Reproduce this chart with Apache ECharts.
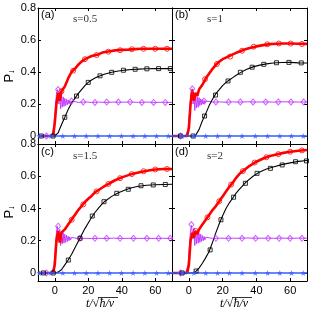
<!DOCTYPE html>
<html><head><meta charset="utf-8">
<script src="https://cdn.jsdelivr.net/npm/echarts@6/dist/echarts.min.js"></script>
<style>html,body{margin:0;padding:0;background:#fff}#c{width:311px;height:311px}</style>
</head><body><div id="c"></div>
<script>
// ---------- data ----------
const panelTags = ['(a)', '(b)', '(c)', '(d)'];
const sLabels = ['s=0.5', 's=1', 's=1.5', 's=2'];
const xTicks = [0, 20, 40, 60];
const yTicks = [0, 0.2, 0.4, 0.6, 0.8];

// red curve (dense line)
const tRed = [-10,-1,0,1,2,3,4,5,6,7,8,9,10,11,12,13,14,15,16,17,18,19,20,22,24,26,28,30,33,36,40,44,48,52,56,60,65,70];
const redA = [0,0,0.08,0.2,0.27,0.22,0.28,0.27,0.31,0.32,0.36,0.36,0.40,0.405,0.42,0.43,0.445,0.45,0.465,0.465,0.48,0.48,0.49,0.50,0.505,0.51,0.52,0.525,0.53,0.535,0.538,0.54,0.543,0.545,0.545,0.545,0.545,0.545];
const redB = [0,0,0.05,0.2,0.29,0.22,0.27,0.25,0.29,0.29,0.32,0.34,0.36,0.375,0.39,0.405,0.42,0.43,0.445,0.455,0.465,0.475,0.48,0.49,0.50,0.51,0.52,0.528,0.54,0.55,0.56,0.568,0.574,0.577,0.578,0.578,0.577,0.576];
const redC = [0,0,0.05,0.2,0.26,0.19,0.25,0.24,0.27,0.27,0.30,0.31,0.33,0.345,0.36,0.375,0.39,0.40,0.415,0.425,0.44,0.45,0.46,0.478,0.50,0.513,0.527,0.54,0.558,0.575,0.593,0.607,0.618,0.628,0.636,0.642,0.645,0.645];
const redD = [0,0,0.05,0.2,0.25,0.22,0.26,0.24,0.27,0.28,0.30,0.31,0.33,0.345,0.36,0.375,0.39,0.40,0.415,0.43,0.445,0.46,0.475,0.505,0.535,0.56,0.59,0.615,0.64,0.665,0.69,0.71,0.725,0.735,0.745,0.752,0.758,0.763];

// black curve
const tBlack = [-10,-2,0,2,4,6,8,10,12,14,16,18,20,22,24,26,28,30,34,38,42,46,50,55,60,65,70];
const blackA = [0,0,0,0.02,0.07,0.117,0.165,0.205,0.235,0.265,0.29,0.315,0.335,0.35,0.362,0.372,0.38,0.387,0.398,0.406,0.412,0.416,0.418,0.42,0.421,0.421,0.421];
const blackB = [0,0,0,0,0.005,0.04,0.095,0.14,0.19,0.23,0.265,0.29,0.315,0.335,0.35,0.365,0.38,0.393,0.415,0.432,0.443,0.451,0.456,0.459,0.46,0.457,0.456];
const blackC = [0,0,0,0.005,0.02,0.05,0.08,0.115,0.155,0.195,0.235,0.275,0.31,0.345,0.375,0.40,0.425,0.445,0.475,0.498,0.515,0.528,0.538,0.544,0.547,0.549,0.55];
const blackD = [0,0,0,0,0.008,0.03,0.06,0.095,0.133,0.19,0.25,0.305,0.355,0.40,0.435,0.465,0.495,0.52,0.565,0.6,0.627,0.645,0.657,0.672,0.683,0.692,0.698];

// magenta curve
const tMag = [-10,-2,-1,-0.5,0,0.5,1,1.5,2,2.5,3,3.5,4,4.5,5,5.5,6,6.5,7,7.5,8,8.5,9,9.5,10,11,12,14,18,22,26,30,35,40,45,50,55,60,65,70];
const magA = [0,0,0.03,0.07,0.13,0.2,0.26,0.29,0.27,0.2,0.27,0.17,0.25,0.18,0.245,0.185,0.235,0.19,0.23,0.195,0.225,0.2,0.222,0.203,0.218,0.207,0.215,0.21,0.213,0.21,0.212,0.21,0.212,0.211,0.213,0.21,0.212,0.21,0.211,0.21];
const magB = [0,0,0.01,0.04,0.1,0.17,0.24,0.28,0.295,0.2,0.27,0.16,0.255,0.175,0.245,0.18,0.24,0.19,0.232,0.195,0.228,0.2,0.222,0.205,0.218,0.208,0.216,0.212,0.213,0.211,0.213,0.212,0.214,0.212,0.213,0.212,0.214,0.213,0.212,0.213];
const magC = [0,0,0.01,0.04,0.1,0.18,0.25,0.29,0.30,0.21,0.27,0.17,0.26,0.18,0.25,0.185,0.24,0.19,0.235,0.195,0.228,0.2,0.224,0.205,0.22,0.21,0.217,0.213,0.215,0.213,0.215,0.214,0.216,0.214,0.215,0.214,0.215,0.214,0.215,0.214];
const magD = [0,0,0.01,0.05,0.12,0.2,0.26,0.295,0.30,0.21,0.28,0.17,0.265,0.18,0.255,0.185,0.245,0.19,0.24,0.195,0.232,0.2,0.226,0.205,0.222,0.21,0.218,0.214,0.216,0.215,0.216,0.215,0.217,0.215,0.216,0.215,0.216,0.215,0.216,0.215];

// blue line
const tBlue = [-10, 70];
const blueLine = [0, 0];

// markers
const redMkT = [[4,11,18,25,32,39,46,53,60,67],[2.5,9.6,16.6,24.5,31.5,38.4,46.4,53.3,60.3,67],[3.1,10.1,17,25,32,39,46,53,60,67],[4,11,18,25,32,39,46,53,60,67]];
const redMkV = [[0.28,0.408,0.48,0.506,0.527,0.536,0.542,0.545,0.545,0.545],[0.25,0.355,0.45,0.496,0.533,0.558,0.573,0.578,0.578,0.575],[0.205,0.33,0.425,0.506,0.552,0.588,0.613,0.631,0.642,0.645],[0.26,0.345,0.445,0.548,0.632,0.685,0.718,0.737,0.752,0.76]];
const blkMkT = [[-8,-1,6,13,20,27,34,41,48,55,62,69],[-5,2.5,9.3,15.8,23.2,30.5,37.5,44.4,51.9,59.3,66.6],[-6.8,-0.9,8.1,15.1,22.4,29.4,37,43.9,51.5,58.8,66],[-4,4.3,12.6,19,26.5,33.5,40.4,48.3,55.3,63.2,69.7]];
const blkMkV = [[0,0,0.117,0.25,0.335,0.376,0.398,0.411,0.417,0.42,0.421,0.421],[0,0,0.125,0.256,0.344,0.398,0.43,0.448,0.458,0.46,0.457],[0,0,0.08,0.215,0.353,0.442,0.494,0.519,0.541,0.546,0.549],[0,0.012,0.143,0.33,0.47,0.556,0.618,0.649,0.67,0.69,0.695]];
const magMkT = [[-5,2,10,17,24,31,38,45,52,59,66],[-5,2,9,16,23.5,30.5,38,45.5,53,60.5,68],[-5,2,15,24,31,39,47,55,62,69],[-5,1.5,16,23.5,31.5,39.5,47,53.5,60,67]];
const magMkV = [[0,0.29,0.218,0.213,0.21,0.212,0.212,0.213,0.21,0.21,0.21],[0,0.295,0.218,0.213,0.212,0.213,0.213,0.213,0.213,0.213,0.213],[0,0.29,0.215,0.215,0.215,0.215,0.215,0.215,0.215,0.215],[0,0.30,0.215,0.215,0.215,0.215,0.215,0.215,0.215,0.215]];
const starMkT = [[-9.2,-2.2,4.8,11.8,18.8,25.8,32.8,39.8,46.8,53.8,60.8,67.8],[-4,3,10,17,24,31.5,39.4,46.7,53.9,60.8,67.8],[-9.2,-2.2,4.8,11.8,18.8,25.8,32.8,39.8,46.8,53.8,60.8,67.8],[-4,3,10,17,24,31.5,39.4,46.7,53.9,60.8,67.8]];
const starMkV = [[0,0,0,0,0,0,0,0,0,0,0,0],[0,0,0,0,0,0,0,0,0,0,0],[0,0,0,0,0,0,0,0,0,0,0,0],[0,0,0,0,0,0,0,0,0,0,0]];

// ---------- chart ----------
const reds = [redA, redB, redC, redD];
const blacks = [blackA, blackB, blackC, blackD];
const mags = [magA, magB, magC, magD];
const zip = (t, v) => t.map((x, k) => [x, v[k]]);

const RED = '#ff0000', BLK = '#000000', MAG = '#c23cff', BLU = '#3a5cff';
const STAR = 'path://M5,0 L6.18,3.82 L10,3.82 L6.91,6.18 L8.09,10 L5,7.64 L1.91,10 L3.09,6.18 L0,3.82 L3.82,3.82 Z';
const SANS = 'Liberation Sans, Arial, sans-serif';
const SERIF = 'Liberation Serif, Times New Roman, serif';

const grids = [
  {left: 38, top: 8, width: 134, height: 136},
  {left: 172, top: 8, width: 135, height: 136},
  {left: 38, top: 144, width: 134, height: 137},
  {left: 172, top: 144, width: 135, height: 137}
];

const xAxes = [], yAxes = [];
function xa(i, pos, labels) {
  return {gridIndex: i, type: 'value', min: -10, max: 70, position: pos,
    axisLine: {show: true, onZero: false, lineStyle: {color: '#000', width: 1}},
    axisTick: {show: true, inside: true, length: 3, customValues: xTicks, lineStyle: {color: '#000'}},
    axisLabel: {show: labels, customValues: xTicks, margin: 4, fontSize: 11, color: '#000', fontFamily: SANS},
    splitLine: {show: false}};
}
function ya(i, pos, labels) {
  return {gridIndex: i, type: 'value', min: -0.05, max: 0.8, position: pos,
    axisLine: {show: true, onZero: false, lineStyle: {color: '#000', width: 1}},
    axisTick: {show: true, inside: true, length: 3, customValues: yTicks, lineStyle: {color: '#000'}},
    axisLabel: {show: labels, customValues: yTicks, margin: 2, fontSize: 11, color: '#000', fontFamily: SANS,
      formatter: v => (Math.abs(v) < 1e-9 ? '0' : v.toFixed(1))},
    splitLine: {show: false}};
}
for (let i = 0; i < 4; i++) { xAxes.push(xa(i, 'bottom', i >= 2)); yAxes.push(ya(i, 'left', i % 2 === 0)); }
for (let i = 0; i < 4; i++) { xAxes.push(xa(i, 'top', false)); yAxes.push(ya(i, 'right', false)); }

const series = [];
for (let i = 0; i < 4; i++) {
  const base = {xAxisIndex: i, yAxisIndex: i, animation: false, silent: true};
  series.push(Object.assign({type: 'line', data: zip(tMag, mags[i]), showSymbol: false, lineStyle: {color: MAG, width: 1}, z: 2}, base));
  series.push(Object.assign({type: 'line', data: zip(tRed, reds[i]), showSymbol: false, lineStyle: {color: RED, width: 2.6}, z: 3}, base));
  series.push(Object.assign({type: 'line', data: zip(tBlack, blacks[i]), showSymbol: false, lineStyle: {color: BLK, width: 1.1}, z: 4}, base));
  series.push(Object.assign({type: 'line', data: zip(tBlue, blueLine), showSymbol: false, lineStyle: {color: BLU, width: 1.5}, z: 5}, base));
  series.push(Object.assign({type: 'scatter', data: zip(magMkT[i], magMkV[i]), symbol: 'diamond', symbolSize: [5, 6],
    itemStyle: {color: 'rgba(255,255,255,0)', borderColor: MAG, borderWidth: 1}, z: 6}, base));
  series.push(Object.assign({type: 'scatter', data: zip(redMkT[i], redMkV[i]), symbol: 'circle', symbolSize: 5,
    itemStyle: {color: 'rgba(255,255,255,0)', borderColor: RED, borderWidth: 1}, z: 6}, base));
  series.push(Object.assign({type: 'scatter', data: zip(blkMkT[i], blkMkV[i]), symbol: 'rect', symbolSize: 4,
    itemStyle: {color: 'rgba(255,255,255,0)', borderColor: BLK, borderWidth: 1}, z: 6}, base));
  series.push(Object.assign({type: 'scatter', data: zip(starMkT[i], starMkV[i]), symbol: STAR, symbolSize: 6,
    itemStyle: {color: BLU}, z: 7}, base));
}

const graphic = [];
const tagPos = [[41, 15], [175, 15], [41, 152], [175, 152]];
const sPos = [[73, 19], [207, 19], [73, 156], [207, 156]];
for (let i = 0; i < 4; i++) {
  graphic.push({type: 'text', x: tagPos[i][0], y: tagPos[i][1], silent: true,
    style: {text: panelTags[i], font: '11px ' + SANS, fill: '#000', verticalAlign: 'middle', align: 'left'}});
  graphic.push({type: 'text', x: sPos[i][0], y: sPos[i][1], silent: true,
    style: {text: sLabels[i], font: '11px ' + SERIF, fill: '#333', verticalAlign: 'middle', align: 'left'}});
}
// x axis titles  t/√(ħ/v)
[0, 134].forEach(dx => {
  graphic.push({type: 'text', x: 86 + dx, y: 304, silent: true,
    style: {text: 't/', font: 'italic 12px ' + SERIF, fill: '#000', verticalAlign: 'middle', align: 'left'}});
  graphic.push({type: 'text', x: 92.5 + dx, y: 304, silent: true,
    style: {text: '√', font: '12px ' + SERIF, fill: '#000', verticalAlign: 'middle', align: 'left'}});
  graphic.push({type: 'text', x: 99.5 + dx, y: 304, silent: true,
    style: {text: 'ħ/v', font: 'italic 12px ' + SERIF, fill: '#000', verticalAlign: 'middle', align: 'left'}});
  graphic.push({type: 'line', silent: true, shape: {x1: 98 + dx, y1: 297.5, x2: 118 + dx, y2: 297.5},
    style: {stroke: '#000', lineWidth: 0.8}});
});
// y axis titles P↓
[76, 212].forEach(cy => {
  graphic.push({type: 'text', x: 9, y: cy, rotation: Math.PI / 2, silent: true,
    style: {text: '{p|P}{s|↓}', align: 'center', verticalAlign: 'middle',
      rich: {p: {font: '13px ' + SANS, fill: '#000'}, s: {font: '9px ' + SANS, fill: '#000', padding: [6, 0, 0, 0]}}}});
});

const chart = echarts.init(document.getElementById('c'), null, {renderer: 'canvas'});
chart.setOption({animation: false, grid: grids, xAxis: xAxes, yAxis: yAxes, series: series, graphic: graphic});
</script>
</body></html>
